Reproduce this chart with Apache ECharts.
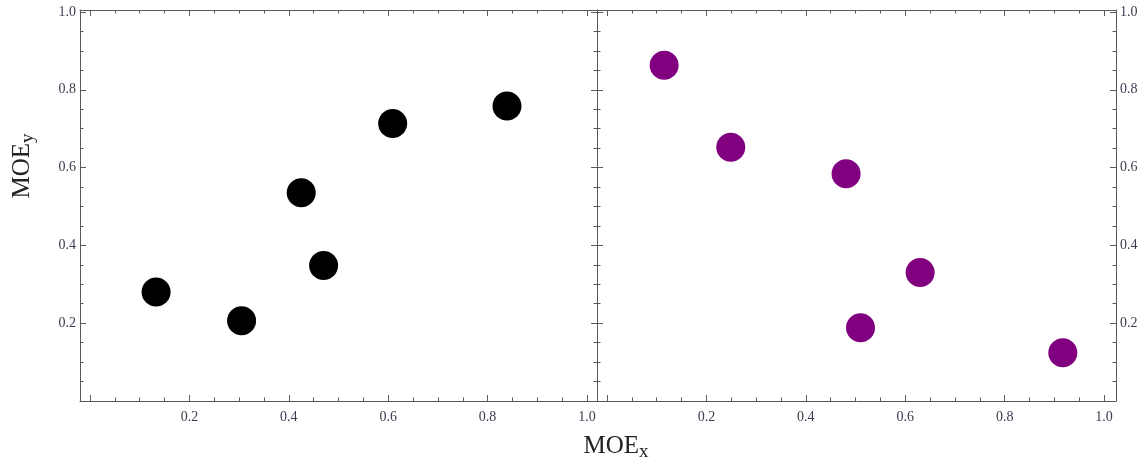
<!DOCTYPE html>
<html>
<head>
<meta charset="utf-8">
<script src="https://cdn.jsdelivr.net/npm/echarts@6/dist/echarts.min.js"></script>
<style>
html,body{margin:0;padding:0;background:#fff;}
#chart{width:1144px;height:465px;}
</style>
</head>
<body>
<div id="chart"></div>
<script>
// ---- data ----
var leftX  = [0.133, 0.305, 0.425, 0.470, 0.609, 0.839];
var leftY  = [0.280, 0.206, 0.535, 0.348, 0.713, 0.758];
var rightX = [0.115, 0.249, 0.481, 0.630, 0.510, 0.917];
var rightY = [0.863, 0.652, 0.584, 0.330, 0.188, 0.124];

var majorTicks = [0, 0.2, 0.4, 0.6, 0.8, 1.0];
var minorTicks = [0.05, 0.1, 0.15, 0.25, 0.3, 0.35, 0.45, 0.5, 0.55, 0.65, 0.7, 0.75, 0.85, 0.9, 0.95];
var tickLabels = [0.2, 0.4, 0.6, 0.8, 1.0];

var xTitleMain = 'MOE', xTitleSub = 'x';
var yTitleMain = 'MOE', yTitleSub = 'y';

// ---- styles ----
var FONT = 'Liberation Serif';
var LINE = '#5a5a5a';
var LABEL = '#3c3c50';

var grids = [
  {left: 80, top: 10, width: 517, height: 391, xmin: -0.0201, xmax: 1.0201},
  {left: 597, top: 10, width: 519, height: 391, xmin: -0.0201, xmax: 1.024}
];
var YMIN = 0, YMAX = 1.005;

function mkAxis(kind, gi, pos, major, showLine, labels, range) {
  return {
    gridIndex: gi, type: 'value', position: pos,
    min: range[0], max: range[1],
    axisLine: {show: showLine, onZero: false, lineStyle: {color: LINE, width: 1}},
    axisTick: {show: true, inside: true, length: major ? 6 : 3.5,
               customValues: major ? majorTicks : minorTicks,
               lineStyle: {color: LINE, width: 1}},
    axisLabel: labels ? {show: true, customValues: tickLabels,
               formatter: function (v) { return Number(v).toFixed(1); },
               fontFamily: FONT, fontSize: 14, color: LABEL,
               margin: kind === 'x' ? 9 : 4} : {show: false},
    splitLine: {show: false},
    minorTick: {show: false}
  };
}

var xAxes = [], yAxes = [];
grids.forEach(function (g, gi) {
  var xr = [g.xmin, g.xmax], yr = [YMIN, YMAX];
  xAxes.push(mkAxis('x', gi, 'bottom', true, true, true, xr));   // main
  xAxes.push(mkAxis('x', gi, 'bottom', false, false, false, xr));
  xAxes.push(mkAxis('x', gi, 'top', true, true, false, xr));
  xAxes.push(mkAxis('x', gi, 'top', false, false, false, xr));
  var labelSide = gi === 0 ? 'left' : 'right';
  yAxes.push(mkAxis('y', gi, labelSide, true, true, true, yr));   // main
  yAxes.push(mkAxis('y', gi, labelSide, false, false, false, yr));
  var other = gi === 0 ? 'right' : 'left';
  yAxes.push(mkAxis('y', gi, other, true, true, false, yr));
  yAxes.push(mkAxis('y', gi, other, false, false, false, yr));
});

function pairs(xs, ys) { return xs.map(function (x, i) { return [x, ys[i]]; }); }

var richTitle = {
  m: {fontFamily: FONT, fontSize: 25, lineHeight: 26, fill: '#222'},
  s: {fontFamily: FONT, fontSize: 19, padding: [12, 0, 0, 0], fill: '#222'}
};

var option = {
  backgroundColor: '#fff',
  animation: false,
  grid: grids.map(function (g) { return {left: g.left, top: g.top, width: g.width, height: g.height, containLabel: false}; }),
  xAxis: xAxes,
  yAxis: yAxes,
  series: [
    {type: 'scatter', xAxisIndex: 0, yAxisIndex: 0, data: pairs(leftX, leftY),
     symbol: 'circle', symbolSize: 29, itemStyle: {color: '#000', opacity: 1}},
    {type: 'scatter', xAxisIndex: 4, yAxisIndex: 4, data: pairs(rightX, rightY),
     symbol: 'circle', symbolSize: 29, itemStyle: {color: '#800080', opacity: 1}}
  ],
  graphic: [
    {type: 'text', x: 616, y: 446,
     style: {text: '{m|' + xTitleMain + '}{s|' + xTitleSub + '}', rich: richTitle,
             align: 'center', verticalAlign: 'middle', fill: '#222'}},
    {type: 'text', x: 22, y: 166, rotation: Math.PI / 2,
     style: {text: '{m|' + yTitleMain + '}{s|' + yTitleSub + '}', rich: richTitle,
             align: 'center', verticalAlign: 'middle', fill: '#222'}}
  ]
};

var chart = echarts.init(document.getElementById('chart'), null, {renderer: 'canvas'});
chart.setOption(option);
</script>
</body>
</html>
